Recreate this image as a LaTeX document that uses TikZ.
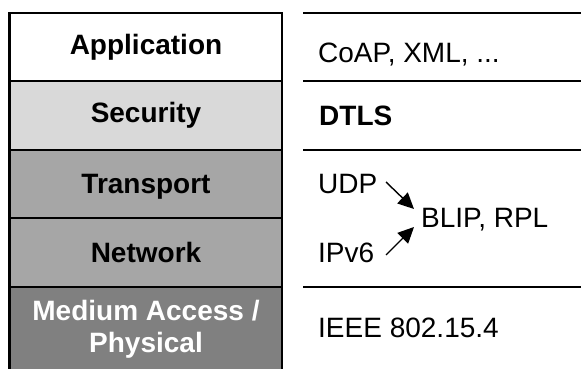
\documentclass[tikz,border=0pt]{standalone}
\usepackage{fontspec}
\setmainfont{Liberation Sans}
\usetikzlibrary{arrows.meta}
\definecolor{secgray}{HTML}{D9D9D9}
\definecolor{midgray}{HTML}{A6A6A6}
\definecolor{darkgray}{HTML}{808080}
\tikzset{
  layer/.style={draw=black, line width=2.6pt},
  sep/.style={draw=black, line width=2.6pt},
  lname/.style={anchor=base, font=\fontsize{28}{32}\selectfont\bfseries, inner sep=0pt},
  proto/.style={anchor=base west, font=\fontsize{28}{32}\selectfont, inner sep=0pt},
  feed/.style={-{Triangle[length=16pt,width=15pt]}, line width=1.4pt}
}
\begin{document}
\begin{tikzpicture}[x=1pt,y=-1pt]
\useasboundingbox (0,0) rectangle (581,369);
% protocol stack layers
\fill[white]    (9.5,13) rectangle (282,81);
\fill[secgray]  (9.5,81) rectangle (282,150);
\fill[midgray]  (9.5,150) rectangle (282,287);
\fill[darkgray] (9.5,287) rectangle (282,375);
\draw[layer] (9.5,375) -- (9.5,13) -- (282,13) -- (282,375);
\draw[layer] (9.5,81) -- (282,81);
\draw[layer] (9.5,150) -- (282,150);
\draw[layer] (9.5,218) -- (282,218);
\draw[layer] (9.5,287) -- (282,287);
% layer names
\node[lname] (app) at (146,55) {Application};
\node[lname] (sec) at (146,122) {Security};
\node[lname] (tra) at (146,193) {Transport};
\node[lname] (net) at (146,262) {Network};
\node[lname, text=white, align=center] (mac) at (146,352) {Medium Access /\\Physical};
% separators of the protocol column
\draw[sep] (303,13) -- (581,13);
\draw[sep] (303,81) -- (581,81);
\draw[sep] (303,150) -- (581,150);
\draw[sep] (303,287) -- (581,287);
% protocols
\node[proto] (coap) at (318,63) {CoAP, XML, ...};
\node[proto, font=\fontsize{28}{32}\selectfont\bfseries] (dtls) at (319,125) {DTLS};
\node[proto] (udp) at (318,193) {UDP};
\node[proto] (ipv6) at (318,262) {IPv6};
\node[proto] (blip) at (421,227) {BLIP, RPL};
\node[proto] (ieee) at (318,337) {IEEE 802.15.4};
% UDP and IPv6 both feed into BLIP/RPL
\coordinate (udpS) at (386,182);
\coordinate (ipS) at (386,255);
\coordinate (blipU) at (414,209);
\coordinate (blipL) at (414,227);
\draw[feed] (udpS) -- (blipU);
\draw[feed] (ipS) -- (blipL);
\end{tikzpicture}
\end{document}
